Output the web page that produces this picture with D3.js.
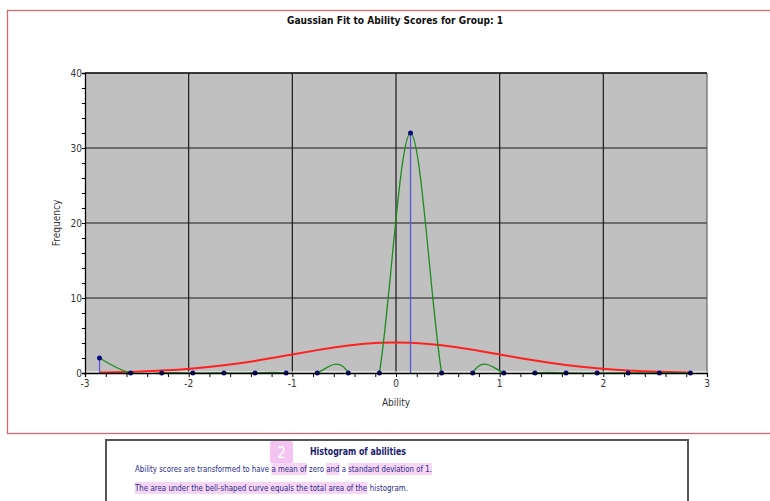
<!DOCTYPE html>
<html>
<head>
<meta charset="utf-8">
<title>Gaussian Fit to Ability Scores</title>
<style>
    body { margin: 0; background: #fff; }
    svg { display: block; }
    text { font-family: "Liberation Sans Narrow", "Arial Narrow", "DejaVu Sans Condensed", sans-serif; }
    .tick-label { font-size: 10px; fill: #333; }
    .grid line { stroke: #1a1a1a; stroke-width: 1.2px; }
</style>
</head>
<body>
<script src="https://cdnjs.cloudflare.com/ajax/libs/d3/7.8.5/d3.min.js"></script>
<script>
    // Bin centres of the ability histogram
    const abilityX = [-2.86, -2.56, -2.26, -1.96, -1.66, -1.36, -1.06, -0.76, -0.46, -0.16,
                       0.14,  0.44,  0.74,  1.04,  1.34,  1.64,  1.94,  2.24,  2.54,  2.84];
    // Observed frequencies
    const freq = [2, 0, 0, 0, 0, 0, 0, 0, 0, 0,
                  32, 0, 0, 0, 0, 0, 0, 0, 0, 0];
    // Fitted normal curve
    const fit = [0.07, 0.15, 0.32, 0.60, 1.03, 1.61, 2.32, 3.05, 3.66, 4.02,
                 4.03, 3.69, 3.10, 2.37, 1.66, 1.06, 0.62, 0.33, 0.16, 0.07];

    const xTicks = [-3, -2, -1, 0, 1, 2, 3];
    const yTicks = [0, 10, 20, 30, 40];

    const titleText = "Gaussian Fit to Ability Scores for Group: 1";
    const noteTitle = "Histogram of abilities";
    // each line is a list of [text, highlighted]
    const noteLines = [
        [["Ability scores are transformed to have ", false], ["a mean of", true], [" zero ", false],
         ["and", true], [" a ", false], ["standard deviation of 1.", true]],
        [["The area under the bell-shaped curve equals the total area of the", true], [" histogram.", false]]
    ];

    const W = 770, H = 501;
    const plot = {left: 85, right: 707, top: 73, bottom: 373};

    const svg = d3.select("body").append("svg")
        .attr("width", W)
        .attr("height", H);

    // outer frame
    svg.append("rect")
        .attr("x", 7.5).attr("y", 10.5)
        .attr("width", 780).attr("height", 423)
        .attr("fill", "none")
        .attr("stroke", "#d46a6a")
        .attr("stroke-width", 1.3);

    const x = d3.scaleLinear().domain([-3, 3]).range([plot.left, plot.right]);
    const y = d3.scaleLinear().domain([0, 40]).range([plot.bottom, plot.top]);

    // plot background
    svg.append("rect")
        .attr("x", plot.left).attr("y", plot.top)
        .attr("width", plot.right - plot.left)
        .attr("height", plot.bottom - plot.top)
        .attr("fill", "#c0c0c0");

    // grid
    const grid = svg.append("g").attr("class", "grid");
    grid.selectAll("line.v")
        .data(xTicks.slice(1, -1))
        .join("line")
        .attr("class", "v")
        .attr("x1", d => x(d)).attr("x2", d => x(d))
        .attr("y1", plot.top).attr("y2", plot.bottom);
    grid.selectAll("line.h")
        .data(yTicks.slice(1))
        .join("line")
        .attr("class", "h")
        .attr("x1", plot.left).attr("x2", plot.right)
        .attr("y1", d => y(d)).attr("y2", d => y(d));

    // right edge of plot
    svg.append("line")
        .attr("x1", plot.right).attr("x2", plot.right)
        .attr("y1", plot.top).attr("y2", plot.bottom)
        .attr("stroke", "#666").attr("stroke-width", 1.2);

    // white zero line just above the axis
    svg.append("line")
        .attr("x1", plot.left).attr("x2", plot.right)
        .attr("y1", y(0) - 1).attr("y2", y(0) - 1)
        .attr("stroke", "#fff").attr("stroke-width", 1.2);

    svg.append("clipPath").attr("id", "clip")
        .append("rect")
        .attr("x", plot.left).attr("y", plot.top)
        .attr("width", plot.right - plot.left)
        .attr("height", plot.bottom - plot.top + 0.5);

    const pts = abilityX.map((v, i) => ({x: v, f: freq[i], g: fit[i]}));

    // fitted gaussian
    svg.append("path")
        .datum(pts)
        .attr("clip-path", "url(#clip)")
        .attr("fill", "none")
        .attr("stroke", "#ff2020")
        .attr("stroke-width", 2)
        .attr("d", d3.line().x(d => x(d.x)).y(d => y(d.g)).curve(d3.curveNatural));

    // drop lines
    svg.selectAll("line.stem")
        .data(pts)
        .join("line")
        .attr("class", "stem")
        .attr("x1", d => x(d.x)).attr("x2", d => x(d.x))
        .attr("y1", d => y(d.f)).attr("y2", y(0))
        .attr("stroke", "#5a5ad0")
        .attr("stroke-width", 1.3);

    // smoothed frequency line
    svg.append("path")
        .datum(pts)
        .attr("clip-path", "url(#clip)")
        .attr("fill", "none")
        .attr("stroke", "#1c8c1c")
        .attr("stroke-width", 1.3)
        .attr("d", d3.line().x(d => x(d.x)).y(d => y(d.f)).curve(d3.curveNatural));

    // points
    svg.selectAll("circle.pt")
        .data(pts)
        .join("circle")
        .attr("class", "pt")
        .attr("cx", d => x(d.x))
        .attr("cy", d => y(d.f))
        .attr("r", 2.5)
        .attr("fill", "#0a0a80");

    // axes
    const xAxis = svg.append("g")
        .attr("transform", `translate(0,${plot.bottom})`)
        .call(d3.axisBottom(x).tickValues(d3.range(-3, 3.01, 0.2)).tickSize(4).tickFormat(""));
    xAxis.select(".domain").attr("stroke", "#000").attr("stroke-width", 1.3);
    xAxis.selectAll(".tick line").attr("stroke", "#000");
    svg.append("g").selectAll("text")
        .data(xTicks)
        .join("text")
        .attr("class", "tick-label")
        .attr("x", d => x(d))
        .attr("y", plot.bottom + 14)
        .attr("text-anchor", "middle")
        .text(d => d);

    const yAxis = svg.append("g")
        .attr("transform", `translate(${plot.left},0)`)
        .call(d3.axisLeft(y).tickValues(d3.range(0, 41, 2)).tickSize(3).tickFormat(""));
    yAxis.select(".domain").attr("stroke", "#000").attr("stroke-width", 1.3);
    yAxis.selectAll(".tick line").attr("stroke", "#000");
    svg.append("g").selectAll("text")
        .data(yTicks)
        .join("text")
        .attr("class", "tick-label")
        .attr("x", plot.left - 3)
        .attr("y", d => y(d) + 3.5)
        .attr("text-anchor", "end")
        .text(d => d);

    // top border of plot
    svg.append("line")
        .attr("x1", plot.left).attr("x2", plot.right)
        .attr("y1", plot.top).attr("y2", plot.top)
        .attr("stroke", "#222").attr("stroke-width", 1.3);

    // titles
    svg.append("text")
        .attr("x", 395).attr("y", 24)
        .attr("text-anchor", "middle")
        .attr("font-size", 11)
        .attr("font-weight", "bold")
        .attr("fill", "#111")
        .attr("textLength", 216)
        .attr("lengthAdjust", "spacingAndGlyphs")
        .text(titleText);

    svg.append("text")
        .attr("x", 396).attr("y", 406)
        .attr("text-anchor", "middle")
        .attr("font-size", 10)
        .attr("fill", "#333")
        .text("Ability");

    svg.append("text")
        .attr("transform", "translate(60,223) rotate(-90)")
        .attr("text-anchor", "middle")
        .attr("font-size", 10)
        .attr("fill", "#333")
        .text("Frequency");

    // note box below the chart
    svg.append("rect")
        .attr("x", 106).attr("y", 440)
        .attr("width", 582).attr("height", 80)
        .attr("fill", "#fff")
        .attr("stroke", "#555")
        .attr("stroke-width", 2);

    svg.append("rect")
        .attr("x", 270).attr("y", 441)
        .attr("width", 23).attr("height", 22)
        .attr("rx", 2)
        .attr("fill", "#f3c4ef");
    svg.append("text")
        .attr("x", 281.5).attr("y", 458)
        .attr("text-anchor", "middle")
        .attr("font-size", 15)
        .attr("fill", "#fff")
        .text("2");

    svg.append("text")
        .attr("x", 310).attr("y", 455)
        .attr("font-size", 10.5)
        .attr("font-weight", "bold")
        .attr("fill", "#1b1b70")
        .attr("textLength", 96)
        .attr("lengthAdjust", "spacingAndGlyphs")
        .text(noteTitle);

    // note lines with highlighted segments
    const lineY = [472, 491];
    const lineW = [297, 273];
    noteLines.forEach((segs, li) => {
        const g = svg.append("g");
        let cx = 0;
        segs.forEach(([t, hl]) => {
            const bg = g.append("rect");
            const txt = g.append("text")
                .attr("x", cx).attr("y", 0)
                .attr("font-size", 9)
                .attr("fill", "#2b2b8c")
                .style("white-space", "pre")
                .text(t);
            const w = txt.node().getComputedTextLength();
            bg.attr("x", cx).attr("y", -9)
                .attr("width", w).attr("height", 12)
                .attr("fill", hl ? "#f6d6f4" : "none");
            cx += w;
        });
        const sx = lineW[li] / cx;
        g.attr("transform", `translate(135,${lineY[li]}) scale(${sx},1)`);
    });
</script>
</body>
</html>
